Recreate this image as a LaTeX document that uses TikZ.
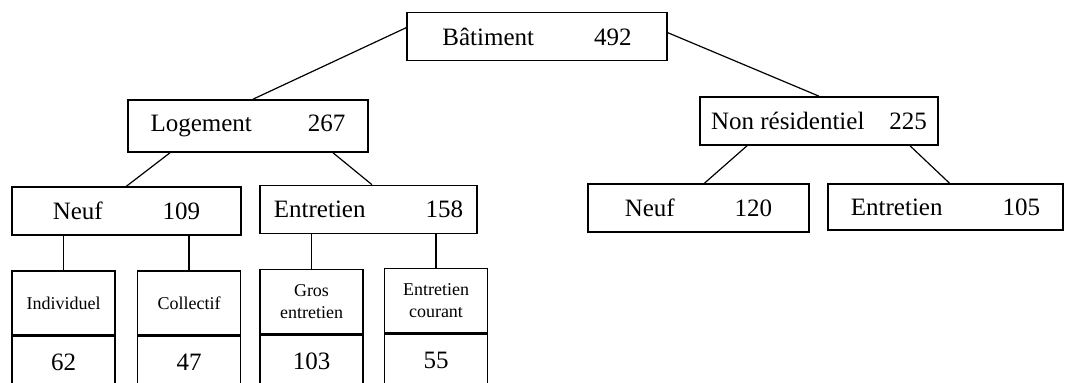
\documentclass[tikz,border=0pt]{standalone}
\usepackage{fontspec}
\setmainfont{Liberation Serif}
\usetikzlibrary{positioning}

\tikzset{
  catbox/.style={draw=black, line width=0.8pt, minimum height=24pt, inner sep=0pt,
    font=\fontsize{12.5}{15}\selectfont},
  leafbox/.style={draw=black, line width=0.8pt, minimum width=51.5pt, minimum height=32pt,
    inner sep=0pt, align=center, font=\fontsize{9}{11}\selectfont},
  valbox/.style={draw=black, line width=0.8pt, minimum width=51.5pt, minimum height=26pt,
    inner sep=0pt, font=\fontsize{12.5}{15}\selectfont},
  link/.style={line width=0.6pt}
}
\newcommand{\pairtxt}[3][30pt]{#2\hspace{#1}#3}

\begin{document}
\begin{tikzpicture}[x=0.5pt, y=-0.5pt]
\useasboundingbox (0,0) rectangle (1067,383);
% top levels
\node[catbox, minimum width=130pt] (bat) at (537,36.5) {\pairtxt{Bâtiment}{492}};
\node[catbox, minimum width=120pt, minimum height=26pt] (log) at (248,126) {\pairtxt[28pt]{Logement}{267}};
\node[catbox, minimum width=119pt] (nonres) at (819,121) {\pairtxt[12.5pt]{Non résidentiel}{225}};
\node[catbox, minimum width=114.5pt] (neuf) at (126.5,211) {\pairtxt{Neuf}{109}};
\node[catbox, minimum width=108.5pt] (ent) at (368.5,209.5) {\pairtxt{Entretien}{158}};
\node[catbox, minimum width=110.5pt] (neufnr) at (698.5,208) {\pairtxt{Neuf}{120}};
\node[catbox, minimum width=117.5pt, minimum height=23pt] (entnr) at (945.5,207) {\pairtxt{Entretien}{105}};
% leaves
\node[leafbox] (indiv) at (63.5,303) {Individuel};
\node[leafbox] (coll) at (189,303) {Collectif};
\node[leafbox] (gros) at (311.5,301.5) {Gros\\entretien};
\node[leafbox] (cour) at (436,300.5) {Entretien\\courant};
\node[valbox, below=0pt of indiv] (vindiv) {62};
\node[valbox, below=0pt of coll] (vcoll) {47};
\node[valbox, below=0pt of gros] (vgros) {103};
\node[valbox, below=0pt of cour] (vcour) {55};
% links
\draw[link] ([yshift=-8pt]bat.north west) -- ([xshift=2.5pt]log.north);
\draw[link] ([yshift=-10.5pt]bat.north east) -- (nonres.north);
\draw[link] ([xshift=-39pt]log.south) -- (neuf.north);
\draw[link] ([xshift=42.5pt]log.south) -- ([xshift=1.75pt]ent.north);
\draw[link] ([xshift=-36pt]nonres.south) -- ([xshift=3pt]neufnr.north);
\draw[link] ([xshift=45.5pt]nonres.south) -- ([xshift=2pt]entnr.north);
\draw[link] (neuf.south -| indiv.north) -- (indiv.north);
\draw[link] (neuf.south -| coll.north) -- (coll.north);
\draw[link] (ent.south -| gros.north) -- (gros.north);
\draw[link] (ent.south -| cour.north) -- (cour.north);
\end{tikzpicture}
\end{document}
